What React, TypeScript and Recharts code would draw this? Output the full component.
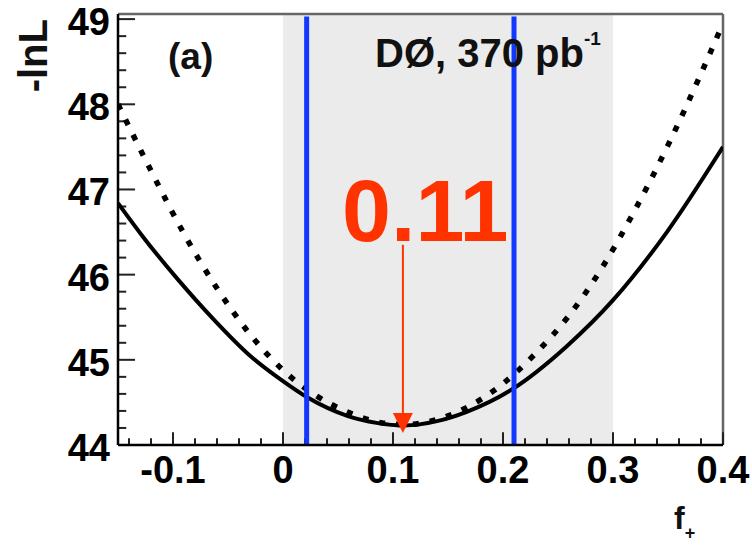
import React from 'react';
import { ComposedChart, Line, XAxis, YAxis, ReferenceArea, ReferenceLine } from 'recharts';

const FONT = '"Liberation Sans", Arial, Helvetica, sans-serif';

// Solid curve (-lnL)
const solidX = [-0.15, -0.127, -0.096, -0.062, -0.031, 0.0, 0.022, 0.059, 0.085, 0.11, 0.14, 0.167, 0.209, 0.258, 0.3, 0.349, 0.4];
const solidY = [46.84, 46.44, 45.95, 45.46, 45.06, 44.75, 44.56, 44.34, 44.26, 44.23, 44.28, 44.39, 44.66, 45.16, 45.7, 46.5, 47.5];

// Dotted curve
const dottedX = [-0.15, -0.12, -0.09, -0.06, -0.03, 0.0, 0.03, 0.06, 0.09, 0.11, 0.14, 0.17, 0.2, 0.23, 0.26, 0.29, 0.32, 0.35, 0.38, 0.4];
const dottedY = [48.0, 47.22, 46.48, 45.84, 45.3, 44.88, 44.58, 44.38, 44.26, 44.24, 44.3, 44.46, 44.72, 45.08, 45.52, 46.08, 46.76, 47.52, 48.36, 48.95];

const xLabelTicks = [-0.1, 0, 0.1, 0.2, 0.3, 0.4];
const xMinorTicks = [-0.14, -0.12, -0.08, -0.06, -0.04, -0.02, 0.02, 0.04, 0.06, 0.08, 0.12, 0.14, 0.16, 0.18, 0.22, 0.24, 0.26, 0.28, 0.32, 0.34, 0.36, 0.38];
const yLabelTicks = [44, 45, 46, 47, 48, 49];
const yMinorTicks = [44.2, 44.4, 44.6, 44.8, 45.2, 45.4, 45.6, 45.8, 46.2, 46.4, 46.6, 46.8, 47.2, 47.4, 47.6, 47.8, 48.2, 48.4, 48.6, 48.8];

const xDomain = [-0.15, 0.4];
const yDomain = [44, 49.06];
const band = [0, 0.3];
const blueLines = [0.0215, 0.21];
const bestValue = 0.109;
const arrowTop = 46.35;
const arrowTip = 44.14;
const bestLabel = '0.11';

// tick mark lengths in axis units
const yMajorLen = 0.0155;
const yMinorLen = 0.0075;
const xMajorLen = 0.15;
const xMinorLen = 0.08;

const solidData = solidX.map((x, i) => ({ x, y: solidY[i] }));
const dottedData = dottedX.map((x, i) => ({ x, y: dottedY[i] }));

const TICK_COLOR = '#222';
const TICK_W = 2;

const YTick = (props: any) => {
  const { x, y, payload } = props;
  return (
    <text x={x - 8} y={y + 16} textAnchor="end" fontFamily={FONT} fontWeight="bold" fontSize={38} fill="#000">
      {Math.round(payload.value)}
    </text>
  );
};

const XTick = (props: any) => {
  const { x, y, payload } = props;
  const label = String(Number((payload.value as number).toFixed(1)));
  return (
    <text x={x} y={y + 38} textAnchor="middle" fontFamily={FONT} fontWeight="bold" fontSize={38} fill="#000">
      {label}
    </text>
  );
};

const ArrowShape = (props: any) => {
  const { x1, y1, x2, y2 } = props;
  return (
    <g>
      <line x1={x1} y1={y1} x2={x2} y2={y2 - 18} stroke="#ff3300" strokeWidth={2} />
      <polygon points={`${x2 - 10},${y2 - 20} ${x2 + 10},${y2 - 20} ${x2},${y2}`} fill="#ff3300" />
    </g>
  );
};

const TickShape = (props: any) => {
  const { x1, y1, x2, y2 } = props;
  return <line x1={x1} y1={y1} x2={x2} y2={y2} stroke={TICK_COLOR} strokeWidth={TICK_W} />;
};

export default function App() {
  const yTickSegs = [
    ...yLabelTicks.map((v) => ({ v, len: yMajorLen })),
    ...yMinorTicks.map((v) => ({ v, len: yMinorLen })),
  ];
  const xTickSegs = [
    ...xLabelTicks.map((v) => ({ v, len: xMajorLen })),
    ...xMinorTicks.map((v) => ({ v, len: xMinorLen })),
  ];
  return (
    <div style={{ position: 'absolute', left: 0, top: 0, width: 752, height: 546, background: '#fff' }}>
      <ComposedChart width={752} height={546} margin={{ top: 14, right: 29, bottom: 41, left: 0 }}>
        <XAxis type="number" dataKey="x" domain={xDomain} allowDataOverflow ticks={xLabelTicks} interval={0}
          tick={<XTick />} tickLine={false} tickSize={0} tickMargin={0} height={60}
          axisLine={{ stroke: '#000', strokeWidth: 2.5 }} />
        <YAxis type="number" domain={yDomain} allowDataOverflow ticks={yLabelTicks} interval={0}
          tick={<YTick />} tickLine={false} tickSize={0} tickMargin={0} width={118}
          axisLine={{ stroke: '#000', strokeWidth: 2.5 }} />
        <ReferenceArea x1={band[0]} x2={band[1]} fill="#ebebeb" fillOpacity={1} stroke="none" />
        <ReferenceLine y={yDomain[1]} stroke="#666" strokeWidth={2.5} />
        <ReferenceLine x={xDomain[1]} stroke="#666" strokeWidth={2.5} />
        {yTickSegs.map(({ v, len }) => (
          <ReferenceLine key={'yt' + v} segment={[{ x: xDomain[0], y: v }, { x: xDomain[0] + len, y: v }]}
            stroke={TICK_COLOR} strokeWidth={TICK_W} shape={<TickShape />} />
        ))}
        {xTickSegs.map(({ v, len }) => (
          <ReferenceLine key={'xt' + v} segment={[{ x: v, y: yDomain[0] }, { x: v, y: yDomain[0] + len }]}
            stroke={TICK_COLOR} strokeWidth={TICK_W} shape={<TickShape />} />
        ))}
        <Line data={dottedData} dataKey="y" type="monotone" stroke="#000" strokeWidth={5.5} strokeDasharray="6 11"
          dot={false} activeDot={false} isAnimationActive={false} />
        <Line data={solidData} dataKey="y" type="monotone" stroke="#000" strokeWidth={4}
          dot={false} activeDot={false} isAnimationActive={false} />
        {blueLines.map((bx) => (
          <ReferenceLine key={bx} segment={[{ x: bx, y: 44 }, { x: bx, y: 49.03 }]} stroke="#1238ff" strokeWidth={5} />
        ))}
        <ReferenceLine segment={[{ x: bestValue, y: arrowTop }, { x: bestValue, y: arrowTip }]} shape={<ArrowShape />} />
      </ComposedChart>
      <svg width={752} height={546} style={{ position: 'absolute', left: 0, top: 0, pointerEvents: 'none' }}>
        <text x={168} y={69} fontFamily={FONT} fontWeight="bold" fontSize={37} fill="#111">(a)</text>
        <text x={375} y={67} fontFamily={FONT} fontWeight="bold" fontSize={40} fill="#111">
          DØ, 370 pb
          <tspan fontSize={19} dy={-22}>-1</tspan>
        </text>
        <text x={342} y={241} fontFamily={FONT} fontWeight="bold" fontSize={88} fill="#ff3300">{bestLabel}</text>
        <text x={47} y={19} textAnchor="end" transform="rotate(-90, 47, 19)" fontFamily={FONT} fontWeight="bold"
          fontSize={40} fill="#111">-lnL</text>
        <text x={674} y={529} fontFamily={FONT} fontWeight="bold" fontSize={32} fill="#111">
          f
          <tspan fontSize={18} dy={10}>+</tspan>
        </text>
      </svg>
    </div>
  );
}
